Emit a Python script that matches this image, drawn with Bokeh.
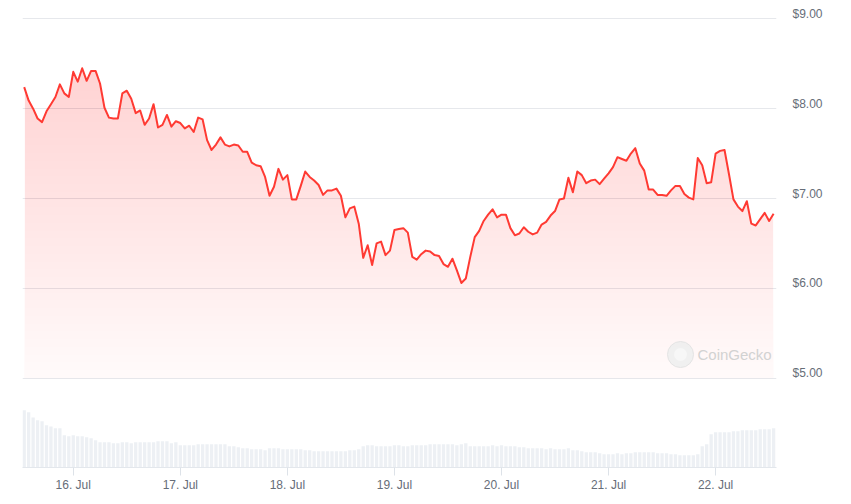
import numpy as np
import pandas as pd
from bokeh.plotting import figure
from bokeh.models import (Range1d, LinearAxis, FixedTicker, NumeralTickFormatter,
                          DatetimeTickFormatter, Grid, Label)
from bokeh.embed import file_html
from bokeh.resources import INLINE

# ---------------- data ----------------
start_time = "2024-07-15 13:00"
prices = [
    8.24, 8.09, 8.00, 7.89, 7.85, 7.97, 8.05, 8.13, 8.27, 8.17,
    8.13, 8.41, 8.30, 8.45, 8.31, 8.42, 8.42, 8.28, 8.01, 7.90,
    7.89, 7.89, 8.17, 8.20, 8.11, 7.95, 7.98, 7.82, 7.89, 8.05,
    7.79, 7.82, 7.93, 7.80, 7.86, 7.84, 7.78, 7.81, 7.74, 7.90,
    7.88, 7.65, 7.54, 7.60, 7.68, 7.60, 7.58, 7.60, 7.59, 7.52,
    7.52, 7.40, 7.37, 7.36, 7.24, 7.03, 7.13, 7.33, 7.21, 7.26,
    6.99, 6.99, 7.14, 7.30, 7.24, 7.20, 7.15, 7.04, 7.09, 7.09,
    7.11, 7.03, 6.79, 6.89, 6.91, 6.72, 6.34, 6.48, 6.26, 6.50,
    6.52, 6.37, 6.42, 6.65, 6.66, 6.67, 6.62, 6.35, 6.32, 6.38,
    6.42, 6.41, 6.37, 6.36, 6.27, 6.24, 6.33, 6.20, 6.06, 6.11,
    6.35, 6.57, 6.64, 6.75, 6.82, 6.88, 6.79, 6.82, 6.82, 6.67,
    6.59, 6.61, 6.68, 6.63, 6.60, 6.62, 6.71, 6.74, 6.81, 6.86,
    6.99, 7.00, 7.23, 7.07, 7.30, 7.26, 7.17, 7.20, 7.21, 7.16,
    7.22, 7.28, 7.35, 7.46, 7.44, 7.42, 7.50, 7.56, 7.39, 7.31,
    7.10, 7.10, 7.04, 7.04, 7.03, 7.09, 7.14, 7.14, 7.05, 7.01,
    6.99, 7.45, 7.37, 7.17, 7.18, 7.50, 7.53, 7.54, 7.27, 6.99,
    6.91, 6.86, 6.97, 6.72, 6.70, 6.77, 6.84, 6.75, 6.83,
]
volume = [
    172, 166, 150, 142, 139, 127, 123, 118, 118, 97,
    94, 97, 94, 94, 91, 88, 82, 76, 76, 76,
    73, 73, 76, 76, 73, 76, 76, 76, 76, 76,
    79, 79, 79, 73, 76, 67, 67, 67, 67, 70,
    70, 70, 70, 70, 70, 70, 64, 64, 61, 58,
    58, 55, 55, 55, 52, 58, 58, 58, 55, 55,
    55, 55, 55, 52, 52, 49, 49, 49, 49, 49,
    49, 49, 49, 52, 52, 55, 64, 67, 67, 64,
    64, 64, 64, 67, 67, 64, 64, 67, 67, 67,
    67, 70, 70, 70, 70, 70, 70, 67, 70, 73,
    64, 64, 64, 64, 64, 67, 64, 67, 64, 64,
    64, 61, 61, 58, 58, 58, 58, 55, 58, 55,
    55, 55, 58, 52, 52, 49, 46, 46, 46, 43,
    40, 40, 40, 43, 40, 43, 43, 46, 46, 46,
    46, 46, 43, 43, 43, 40, 40, 37, 37, 37,
    37, 40, 64, 70, 100, 106, 106, 106, 106, 109,
    109, 112, 112, 112, 112, 115, 115, 115, 118,
]
day_ticks = ["2024-07-16", "2024-07-17", "2024-07-18", "2024-07-19",
             "2024-07-20", "2024-07-21", "2024-07-22"]
price_ticks = [5, 6, 7, 8, 9]

# ---------------- chart ----------------
HOUR = 3600 * 1000.0
times = pd.date_range(start_time, periods=len(prices), freq="h")
t_ms = (times.asi8 // 10**6).astype(float)
tick_ms = [float(pd.Timestamp(d).value // 10**6) for d in day_ticks]
pr = np.array(prices)

x0, x1 = t_ms[0] - 0.38 * HOUR, t_ms[-1] + 0.65 * HOUR
y0, y1 = 4.0061, 9.0701
LBL_SHIFT = 0.0556

p = figure(width=843, height=500, x_range=Range1d(x0, x1), y_range=Range1d(y0, y1),
           x_axis_type="datetime", y_axis_location=None,
           output_backend="svg", toolbar_location=None,
           min_border_left=22, min_border_right=67, min_border_top=12, min_border_bottom=33,
           outline_line_color=None, background_fill_color="white", border_fill_color="white")
p.xgrid.visible = False
for g in p.ygrid:
    g.visible = False

p.extra_y_ranges = {"vol": Range1d(0, 1365),
                    "lbl": Range1d(y0 - LBL_SHIFT, y1 - LBL_SHIFT)}

p.add_layout(Grid(dimension=1, ticker=FixedTicker(ticks=price_ticks),
                  grid_line_color="#e6e8ec", grid_line_width=1))

# volume bars
p.vbar(x=t_ms, top=volume, bottom=0, width=0.74 * HOUR, y_range_name="vol",
       fill_color="#edf0f4", line_color=None)

# gradient area under the price line (stacked translucent layers)
n_layers = 40
levels = np.linspace(5.0, pr.max(), n_layers + 1)[:-1]
for k, lvl in enumerate(levels):
    alpha = 0.025 if k == 0 else 0.0045
    p.varea(x=t_ms, y1=lvl, y2=np.maximum(pr, lvl),
            fill_color="#ff3a33", fill_alpha=alpha)

p.line(x=t_ms, y=pr, line_color="#ff3a33", line_width=2, line_join="round")

# right price axis (labels sit slightly above gridlines)
ax = LinearAxis(y_range_name="lbl", ticker=FixedTicker(ticks=price_ticks),
                formatter=NumeralTickFormatter(format="$0.00"))
ax.axis_line_color = None
ax.major_tick_line_color = None
ax.minor_tick_line_color = None
ax.major_tick_out = 0
ax.major_tick_in = 0
ax.major_label_standoff = 16
ax.major_label_text_font = "Liberation Sans"
ax.major_label_text_font_size = "12px"
ax.major_label_text_color = "#666d78"
p.add_layout(ax, "right")

# bottom date axis
xa = p.xaxis[0]
xa.ticker = FixedTicker(ticks=tick_ms)
fmt = "%d. %b"
xa.formatter = DatetimeTickFormatter(days=fmt, hours=fmt, months=fmt, years=fmt,
                                     hourmin=fmt, minutes=fmt, context=None)
xa.axis_line_color = "#e3e7ec"
xa.axis_line_width = 1
xa.major_tick_line_color = "#dde2e8"
xa.major_tick_out = 8
xa.major_tick_in = 0
xa.minor_tick_line_color = None
xa.major_label_standoff = 2
xa.major_label_text_font = "Liberation Sans"
xa.major_label_text_font_size = "12px"
xa.major_label_text_color = "#666d78"

# watermark
fx = x0 + (658.0 / 754.0) * (x1 - x0)
fy = y0 + (113.0 / 455.0) * (y1 - y0)
p.scatter(x=[fx], y=[fy], size=26, marker="circle", fill_color="#eeeeee",
          fill_alpha=0.9, line_color="#e4e4e4", line_width=1)
p.scatter(x=[fx], y=[fy], size=13, marker="circle", fill_color="#f7f7f7",
          fill_alpha=0.9, line_color=None)
p.add_layout(Label(x=675, y=113, x_units="screen", y_units="screen", text="CoinGecko",
                   text_font="Liberation Sans", text_font_size="15px",
                   text_color="#d2d2d2", text_baseline="middle"))

open("out.html", "w").write(file_html(p, INLINE))
